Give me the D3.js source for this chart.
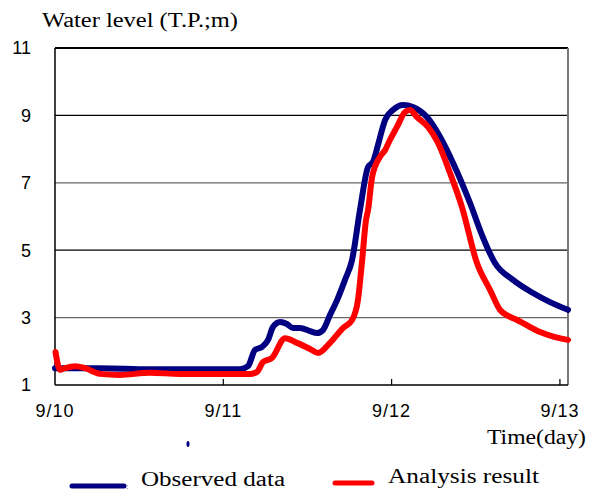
<!DOCTYPE html>
<html><head><meta charset="utf-8">
<script src="https://cdn.jsdelivr.net/npm/d3@7"></script>
<style>html,body{margin:0;padding:0;background:#fff;}</style>
</head><body>
<svg id="c" width="598" height="491"></svg>
<script>
// time in days since 9/10 00:00, water level in T.P. m
const obsDay = [0,0.267,0.564,0.862,1.099,1.147,1.188,1.230,1.266,1.295,1.337,1.378,1.414,1.456,1.515,1.557,1.592,1.634,1.676,1.723,1.765,1.812,1.860,1.889,1.919,1.943,1.961,2.008,2.068,2.127,2.169,2.210,2.288,2.365,2.466,2.537,2.614,2.721,2.840,2.941,3.048];
const obsLevel = [1.50,1.50,1.47,1.47,1.47,1.56,2.04,2.13,2.34,2.72,2.87,2.81,2.69,2.69,2.60,2.54,2.63,3.08,3.52,4.12,4.71,6.19,7.47,7.62,8.12,8.57,8.86,9.16,9.31,9.25,9.13,8.95,8.36,7.59,6.40,5.45,4.62,4.12,3.73,3.46,3.23];
const simDay = [0.003,0.030,0.059,0.119,0.178,0.267,0.386,0.564,0.743,0.921,1.159,1.200,1.236,1.289,1.367,1.438,1.515,1.563,1.634,1.711,1.765,1.800,1.824,1.848,1.860,1.884,1.931,1.961,1.990,2.032,2.080,2.109,2.151,2.216,2.276,2.347,2.418,2.507,2.585,2.644,2.692,2.745,2.882,2.971,3.048];
const simLevel = [1.98,1.45,1.50,1.56,1.50,1.33,1.30,1.36,1.33,1.33,1.33,1.39,1.68,1.80,2.39,2.25,2.07,1.95,2.25,2.69,2.93,3.52,4.65,5.90,6.19,7.17,7.77,7.97,8.27,8.66,9.10,9.16,8.95,8.66,8.18,7.29,6.28,4.62,3.82,3.23,3.05,2.93,2.57,2.42,2.34];
const xTickDays = [0,1,2,3];
const xTickLabels = ["9/10","9/11","9/12","9/13"];
const yTicks = [1,3,5,7,9,11];
const seriesNames = ["Observed data","Analysis result"];
const seriesColors = ["#000080","#ff0000"];

const svg = d3.select("#c");
const L = 55, T = 48, R = 568, B = 385;
const x = d3.scaleLinear().domain([0, 3.048]).range([L, R]);
const y = d3.scaleLinear().domain([1, 11]).range([B, T]);

// gridlines
svg.selectAll("line.grid").data([3,5,7,9]).enter().append("line")
  .attr("x1", L).attr("x2", R)
  .attr("y1", d => y(d)).attr("y2", d => y(d))
  .attr("stroke", d => (d === 7 || d === 3) ? "#666" : "#000")
  .attr("stroke-width", 1.2);

// frame
svg.append("line").attr("x1", L).attr("x2", R).attr("y1", T).attr("y2", T).attr("stroke", "#000").attr("stroke-width", 2);
svg.append("line").attr("x1", R).attr("x2", R).attr("y1", T).attr("y2", B).attr("stroke", "#777").attr("stroke-width", 2);
svg.append("line").attr("x1", L).attr("x2", L).attr("y1", T).attr("y2", B).attr("stroke", "#000").attr("stroke-width", 1.5);
svg.append("line").attr("x1", L).attr("x2", R).attr("y1", B).attr("y2", B).attr("stroke", "#000").attr("stroke-width", 1.5);

// x ticks (inward)
svg.selectAll("line.xt").data(xTickDays.slice(1)).enter().append("line")
  .attr("x1", d => x(d)).attr("x2", d => x(d)).attr("y1", B).attr("y2", B - 6)
  .attr("stroke", "#000").attr("stroke-width", 1.2);

// y labels
svg.selectAll("text.yl").data(yTicks).enter().append("text")
  .attr("x", 31).attr("y", d => y(d)).attr("dy", "0.36em")
  .attr("text-anchor", "end")
  .style("font-family", "Liberation Sans, Arial, sans-serif").style("font-size", "18px")
  .text(d => d);

// x labels
svg.selectAll("text.xl").data(xTickDays).enter().append("text")
  .attr("x", d => x(d)).attr("y", 417)
  .attr("text-anchor", "middle")
  .style("font-family", "Liberation Sans, Arial, sans-serif").style("font-size", "18px")
  .style("letter-spacing", "1px")
  .text((d, i) => xTickLabels[i]);

// titles
const serif = "Liberation Serif, Times New Roman, serif";
svg.append("text").attr("x", 42).attr("y", 27)
  .attr("textLength", 196).attr("lengthAdjust", "spacingAndGlyphs")
  .style("font-family", serif).style("font-size", "20px")
  .text("Water level (T.P.;m)");
svg.append("text").attr("x", 487).attr("y", 444)
  .attr("textLength", 99).attr("lengthAdjust", "spacingAndGlyphs")
  .style("font-family", serif).style("font-size", "20px")
  .text("Time(day)");

// lines
const line = d3.line().x(d => x(d[0])).y(d => y(d[1])).curve(d3.curveMonotoneX);
const obs = obsDay.map((d, i) => [d, obsLevel[i]]);
const sim = simDay.map((d, i) => [d, simLevel[i]]);
[obs, sim].forEach((data, i) => {
  svg.append("path").datum(data).attr("d", line)
    .attr("fill", "none").attr("stroke", seriesColors[i]).attr("stroke-width", 6)
    .attr("stroke-linejoin", "round").attr("stroke-linecap", "round");
});

// stray mark
svg.append("ellipse").attr("cx", 188).attr("cy", 444).attr("rx", 1.5).attr("ry", 3).attr("fill", "#000080");

// legend
const legend = [{x1: 72, x2: 124, y: 486, tx: 141, ty: 486, w: 144}, {x1: 335, x2: 372, y: 483, tx: 388, ty: 483, w: 151}];
legend.forEach((l, i) => {
  svg.append("line").attr("x1", l.x1).attr("x2", l.x2).attr("y1", l.y).attr("y2", l.y)
    .attr("stroke", seriesColors[i]).attr("stroke-width", 5).attr("stroke-linecap", "round");
  svg.append("text").attr("x", l.tx).attr("y", l.ty)
    .attr("textLength", l.w).attr("lengthAdjust", "spacingAndGlyphs")
    .style("font-family", serif).style("font-size", "20px")
    .text(seriesNames[i]);
});
svg.append("text").attr("x", 126).attr("y", 489).style("font-family", serif).style("font-size", "9px").attr("fill", "#555").text(":");
</script>
</body></html>
